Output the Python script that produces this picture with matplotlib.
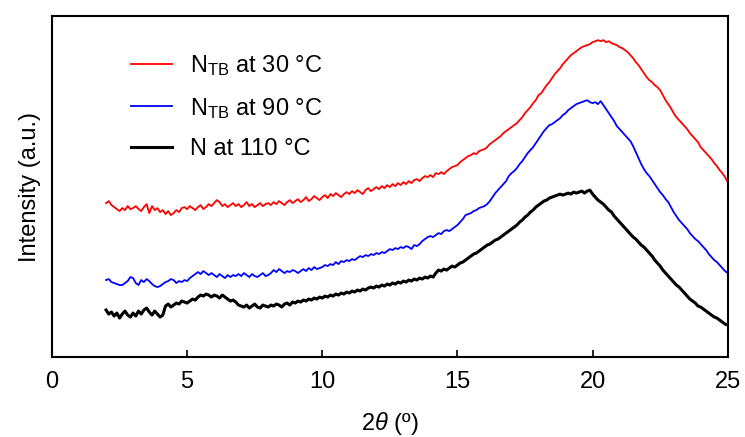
import numpy as np
import matplotlib.pyplot as plt

plt.rcParams['font.family'] = ['Liberation Sans', 'DejaVu Sans']
plt.rcParams['mathtext.fontset'] = 'custom'
plt.rcParams['mathtext.rm'] = 'Liberation Sans'
plt.rcParams['mathtext.it'] = 'Liberation Sans:italic'

# 2theta grid, 2 to 25 deg in 0.1 steps
two_theta = np.round(np.arange(2.0, 25.05, 0.1), 1)

# intensities (a.u.)
ntb_30 = [154, 156, 152, 150, 148, 146, 149, 147, 151, 148,
          149, 151, 148, 146, 150, 153, 144, 151, 147, 149,
          145, 147, 143, 146, 142, 144, 147, 145, 149, 150,
          148, 151, 149, 147, 150, 152, 148, 150, 153, 151,
          154, 157, 155, 151, 153, 150, 152, 154, 151, 153,
          150, 152, 155, 151, 153, 150, 152, 154, 151, 153,
          154, 152, 155, 153, 156, 154, 152, 155, 157, 154,
          156, 158, 155, 157, 160, 156, 158, 161, 159, 157,
          160, 162, 159, 163, 161, 164, 162, 160, 163, 165,
          163, 166, 164, 167, 165, 163, 167, 169, 166, 168,
          170, 168, 171, 169, 172, 170, 173, 171, 174, 172,
          175, 173, 176, 174, 177, 178, 176, 179, 181, 180,
          182, 180, 184, 183, 185, 183, 186, 188, 190, 191,
          192, 195, 197, 199, 201, 202, 204, 203, 206, 207,
          208, 210, 213, 215, 217, 219, 221, 224, 226, 228,
          230, 232, 234, 237, 240, 244, 247, 250, 254, 257,
          262, 264, 268, 272, 275, 279, 283, 286, 289, 293,
          296, 299, 302, 304, 306, 308, 310, 311, 312, 313,
          315, 316, 317, 316, 317, 315, 316, 314, 313, 312,
          310, 309, 307, 305, 302, 299, 295, 292, 288, 284,
          280, 277, 275, 272, 270, 267, 262, 257, 253, 249,
          244, 240, 237, 234, 231, 228, 224, 221, 218, 215,
          210, 207, 204, 201, 198, 194, 191, 187, 184, 180,
          175]

ntb_90 = [77, 78, 75, 74, 73, 72, 72, 74, 76, 80,
          79, 74, 72, 77, 75, 78, 76, 73, 71, 70,
          71, 73, 75, 76, 78, 77, 74, 76, 75, 77,
          76, 79, 81, 83, 85, 83, 86, 84, 82, 84,
          82, 80, 83, 81, 79, 82, 80, 82, 81, 83,
          81, 84, 82, 80, 83, 81, 80, 82, 84, 81,
          82, 84, 87, 85, 88, 86, 84, 86, 85, 87,
          86, 84, 86, 88, 86, 89, 87, 90, 88, 89,
          90, 92, 91, 93, 92, 95, 93, 96, 95, 97,
          96, 98, 97, 99, 101, 100, 102, 101, 103, 102,
          104, 103, 105, 104, 106, 108, 107, 109, 108, 110,
          109, 111, 110, 108, 112, 111, 113, 116, 118, 120,
          121, 120, 122, 124, 123, 126, 127, 126, 128, 130,
          132, 135, 138, 142, 143, 144, 146, 147, 149, 150,
          151, 153, 156, 160, 164, 167, 170, 173, 176, 181,
          184, 186, 189, 193, 196, 200, 204, 207, 210, 214,
          218, 222, 226, 229, 232, 233, 235, 237, 239, 242,
          244, 247, 249, 251, 253, 254, 255, 256, 257, 255,
          254, 255, 253, 256, 252, 248, 244, 240, 236, 231,
          228, 225, 222, 219, 216, 211, 205, 199, 193, 188,
          184, 181, 177, 173, 169, 165, 162, 158, 155, 150,
          145, 141, 137, 134, 131, 128, 124, 121, 118, 116,
          113, 110, 107, 103, 100, 97, 95, 92, 89, 86,
          84]

n_110 = [47, 43, 45, 41, 44, 39, 43, 46, 42, 40,
         44, 41, 46, 43, 47, 49, 45, 42, 46, 43,
         40, 42, 51, 53, 50, 52, 54, 53, 56, 55,
         54, 56, 58, 57, 60, 62, 61, 63, 62, 60,
         62, 61, 59, 62, 60, 58, 56, 57, 55, 52,
         51, 50, 52, 49, 51, 53, 50, 49, 52, 51,
         50, 52, 51, 53, 52, 50, 53, 54, 52, 55,
         54, 56, 55, 57, 56, 58, 57, 59, 58, 60,
         59, 61, 60, 62, 61, 63, 62, 64, 63, 65,
         64, 66, 65, 67, 66, 68, 67, 69, 70, 69,
         71, 70, 72, 71, 73, 72, 74, 73, 75, 74,
         76, 75, 77, 76, 78, 77, 79, 78, 80, 79,
         81, 80, 84, 87, 86, 88, 87, 89, 91, 90,
         92, 94, 95, 97, 99, 101, 103, 104, 106, 108,
         110, 112, 113, 115, 117, 118, 120, 122, 124, 126,
         128, 130, 132, 135, 137, 140, 142, 145, 147, 150,
         152, 154, 156, 157, 159, 160, 161, 162, 163, 162,
         163, 164, 163, 165, 164, 165, 166, 164, 166, 167,
         163, 160, 157, 155, 153, 150, 147, 145, 141, 138,
         135, 132, 129, 126, 123, 120, 118, 115, 112, 110,
         107, 104, 101, 97, 94, 91, 87, 84, 81, 78,
         75, 72, 70, 67, 64, 61, 58, 56, 54, 51,
         50, 48, 46, 44, 42, 40, 39, 37, 35, 33,
         32]

labels = ['N$_{\\mathrm{TB}}$ at 30 \u00b0C', 'N$_{\\mathrm{TB}}$ at 90 \u00b0C', 'N at 110 \u00b0C']

fig = plt.figure(figsize=(7.45, 4.37), dpi=100)
ax = fig.add_axes([0.0698, 0.183, 0.907, 0.780])

ax.plot(two_theta, ntb_30, color='#ff0000', lw=1.3, label=labels[0])
ax.plot(two_theta, ntb_90, color='#0000ff', lw=1.3, label=labels[1])
ax.plot(two_theta, n_110, color='black', lw=2.2, label=labels[2])

ax.set_xlim(0, 25)
ax.set_ylim(0, 341)
ax.set_xticks([0, 5, 10, 15, 20, 25])
ax.set_yticks([])
ax.tick_params(axis='x', direction='in', length=5, width=1.2, pad=10, labelsize=17)
for s in ax.spines.values():
    s.set_linewidth(1.5)

ax.set_xlabel('$\\mathit{2\\theta}$ (\u00ba)', fontsize=17, labelpad=12)
ax.set_ylabel('Intensity (a.u.)', fontsize=17, labelpad=8)

leg = ax.legend(loc='upper left', bbox_to_anchor=(0.099, 0.925), frameon=False,
                borderpad=0, fontsize=17, handlelength=1.75, handletextpad=0.75,
                labelspacing=0.73)

fig.savefig('out.png', dpi=100)
